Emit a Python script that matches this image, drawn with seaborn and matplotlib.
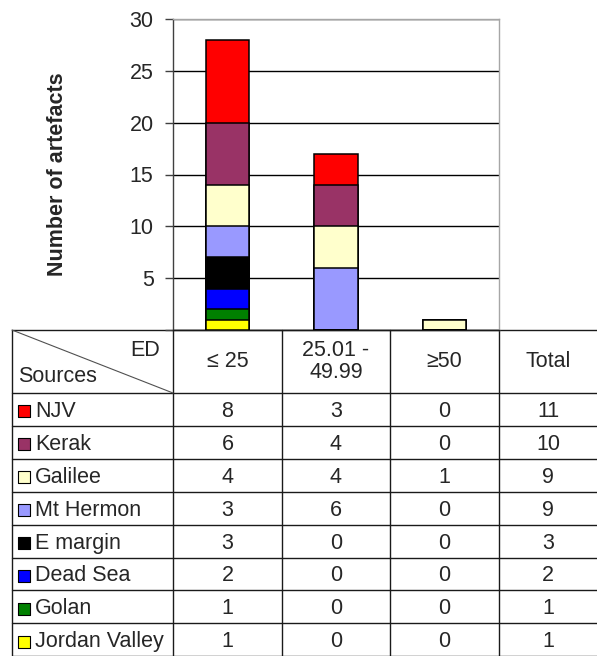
import numpy as np
import pandas as pd
import matplotlib
matplotlib.use("Agg")
import matplotlib.pyplot as plt
import seaborn as sns

# ---------------------------------------------------------------------------
# Data (read off the reference table)
# ---------------------------------------------------------------------------
sources = ["NJV", "Kerak", "Galilee", "Mt Hermon", "E margin",
           "Dead Sea", "Golan", "Jordan Valley"]
ed_classes = ["\u2264 25", "25.01 -\n49.99", "\u226550"]
ed_le25 = [8, 6, 4, 3, 3, 2, 1, 1]
ed_mid = [3, 4, 4, 6, 0, 0, 0, 0]
ed_ge50 = [0, 0, 1, 0, 0, 0, 0, 0]
source_colors = ["#FF0000", "#993366", "#FFFFCC", "#9999FF", "#000000",
                 "#0000FF", "#008000", "#FFFF00"]
y_ticks = [0, 5, 10, 15, 20, 25, 30]
y_ticklabels = ["", "5", "10", "15", "20", "25", "30"]

# ---------------------------------------------------------------------------
# Style
# ---------------------------------------------------------------------------
sns.set_theme(style="white")
plt.rcParams["font.family"] = ["Liberation Sans", "DejaVu Sans"]
FS = 15.5
LINE = "#1a1a1a"

W, H = 597, 656
fig = plt.figure(figsize=(W / 100, H / 100), dpi=100)

# pixel layout of the table / plot grid
x_left, x_label_end = 12, 173
col_edges = [173, 282, 390, 499, 597]
y_plot_top, y_table_top, y_header_end = 19, 330, 393
row_h = 32.9

# ---------------------------------------------------------------------------
# Table axes (pixel coordinates, full figure)
# ---------------------------------------------------------------------------
tab = fig.add_axes([0, 0, 1, 1])
tab.set_xlim(0, W)
tab.set_ylim(H, 0)
tab.axis("off")

y_bottom = y_header_end + row_h * len(sources)
tab.plot([x_left, W], [y_table_top, y_table_top], color=LINE, lw=1)
tab.plot([x_left, x_left], [y_table_top, y_bottom], color=LINE, lw=1)
for xe in col_edges[:-1]:
    tab.plot([xe, xe], [y_table_top, y_bottom], color=LINE, lw=1)
for k in range(len(sources) + 1):
    yy = y_header_end + row_h * k
    tab.plot([x_left, W], [yy, yy], color=LINE, lw=1)
# diagonal header split
tab.plot([x_left, x_label_end], [y_table_top, y_header_end], color="#505050", lw=0.8)
tab.text(x_label_end - 13, 351, "ED", ha="right", va="center", fontsize=FS)
tab.text(x_left + 6, 377, "Sources", ha="left", va="center", fontsize=FS)

header_mid = (y_table_top + y_header_end) / 2
headers = ed_classes + ["Total"]
for j, lab in enumerate(headers):
    cx = (col_edges[j] + col_edges[j + 1]) / 2
    tab.text(cx, header_mid, lab, ha="center", va="center", fontsize=FS,
             linespacing=1.1)

columns = [ed_le25, ed_mid, ed_ge50]
totals = [a + b + c for a, b, c in zip(ed_le25, ed_mid, ed_ge50)]
for i, (src, col) in enumerate(zip(sources, source_colors)):
    cy = y_header_end + row_h * (i + 0.5) + 2
    tab.scatter([x_left + 11.5], [cy], marker="s", s=85, color=col,
                edgecolor="black", linewidth=0.8, zorder=3)
    tab.text(x_left + 23, cy, src, ha="left", va="center", fontsize=FS)
    vals = [c[i] for c in columns] + [totals[i]]
    for j, v in enumerate(vals):
        cx = (col_edges[j] + col_edges[j + 1]) / 2
        tab.text(cx, cy, str(v), ha="center", va="center", fontsize=FS)

# ---------------------------------------------------------------------------
# Stacked bar chart (cumulative overlay, largest first)
# ---------------------------------------------------------------------------
ax = fig.add_axes([col_edges[0] / W, (H - y_table_top) / H,
                   (col_edges[3] - col_edges[0]) / W,
                   (y_table_top - y_plot_top) / H])
ax.patch.set_alpha(0)

data = pd.DataFrame({"source": sources, ed_classes[0]: ed_le25,
                     ed_classes[1]: ed_mid, ed_classes[2]: ed_ge50})
# stacking order: Jordan Valley at the bottom, NJV on top
cum = data.set_index("source")[ed_classes].iloc[::-1].cumsum().iloc[::-1]
for src, col in zip(sources, source_colors):
    sns.barplot(x=ed_classes, y=cum.loc[src].values, color=col, width=0.4,
                edgecolor="black", linewidth=1.1, saturation=1, ax=ax, zorder=3)

ax.set_ylim(0, 30)
ax.set_yticks(y_ticks)
ax.set_yticklabels(y_ticklabels, fontsize=FS)
ax.set_xticks([])
ax.yaxis.grid(True, color="black", linewidth=1)
ax.set_axisbelow(True)
ax.tick_params(axis="y", length=6, width=1, color="#404040", pad=8, left=True)
ax.set_ylabel("Number of artefacts", fontsize=FS, fontweight="bold",
              labelpad=44)
ax.spines["left"].set_color("#404040")
ax.spines["bottom"].set_color(LINE)
ax.spines["top"].set_color("#a6a6a6")
ax.spines["right"].set_color("#a6a6a6")
for sp in ax.spines.values():
    sp.set_linewidth(1)
    sp.set_visible(True)

fig.savefig("out.png", dpi=100, facecolor="white")
